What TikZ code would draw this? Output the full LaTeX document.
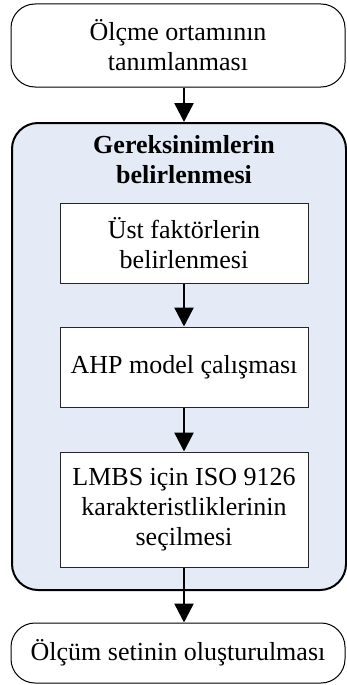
\documentclass[tikz,border=0pt]{standalone}
\usepackage{fontspec}
\setmainfont{Liberation Serif}
\usetikzlibrary{arrows.meta}
\definecolor{groupfill}{HTML}{E4EBF6}
\begin{document}
\begin{tikzpicture}[x=1pt,y=-1pt,
  every node/.style={font=\fontsize{26}{30}\selectfont, align=center, inner sep=0pt},
  terminal/.style={draw, line width=1pt, rounded corners=24pt, fill=white,
    minimum width=334pt},
  group/.style={draw, line width=2pt, rounded corners=26pt, fill=groupfill,
    minimum width=334pt, minimum height=467pt},
  stepbox/.style={draw=black!85, line width=1pt, fill=white, minimum width=248pt},
  flow/.style={line width=2.5pt, -{Triangle[width=19pt,length=19pt]}}
]
\useasboundingbox (0,0) rectangle (347,685);

% stages
\node[terminal, minimum height=83pt] (start) at (178,45.5) {Ölçme ortamının\\tanımlanması};
\node[group] (req) at (179,356.5) {};
\node[font=\fontsize{26}{30}\selectfont\bfseries] (reqtitle) at (184,160) {Gereksinimlerin\\belirlenmesi};
\node[stepbox, minimum height=80pt] (s1) at (184,243) {Üst faktörlerin\\belirlenmesi};
\node[stepbox, minimum height=80pt] (s2) at (184,367) {AHP model çalışması};
\node[stepbox, minimum height=115pt] (s3) at (184,509.5) {LMBS için ISO 9126\\karakteristliklerinin\\seçilmesi};
\node[terminal, minimum height=60pt] (finish) at (178,653) {Ölçüm setinin oluşturulması};

% connectors
\draw[flow] (start.south -| s1) -- (req.north -| s1);
\draw[flow] (s1) -- (s2);
\draw[flow] (s2) -- (s3);
\draw[flow] (s3.south) -- (finish.north -| s3);
\end{tikzpicture}
\end{document}
